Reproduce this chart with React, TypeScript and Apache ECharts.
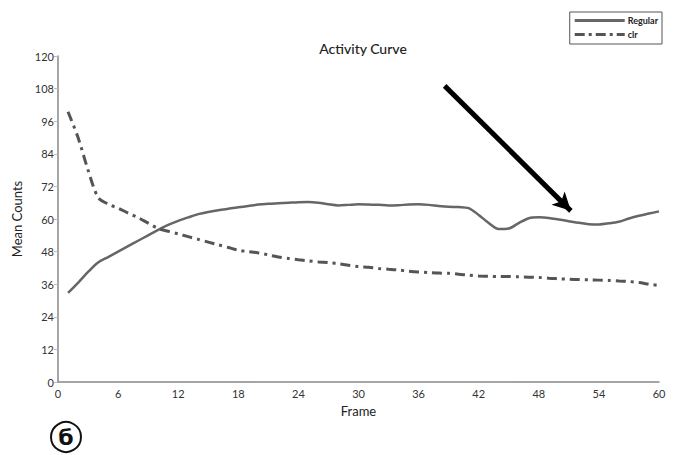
import React, { useEffect, useRef } from "react";
import * as echarts from "echarts";

const frames: number[] = Array.from({ length: 60 }, (_, i) => i + 1);

const regularValues: number[] = [
  32.8, 36.5, 40.5, 44, 46, 48, 50, 52, 54, 56,
  57.8, 59.3, 60.6, 61.8, 62.6, 63.2, 63.8, 64.3, 64.8, 65.3,
  65.6, 65.8, 66, 66.2, 66.3, 66, 65.4, 65, 65.2, 65.4,
  65.3, 65.2, 65, 65.1, 65.3, 65.4, 65.2, 64.8, 64.5, 64.4,
  64, 61.5, 58.5, 56.3, 56.5, 58.5, 60.3, 60.6, 60.4, 59.8,
  59.2, 58.6, 58.1, 58, 58.4, 59, 60.2, 61.2, 62, 62.8,
];

const clrValues: number[] = [
  99.5, 90, 78, 68, 65.5, 64, 62.2, 60.5, 58.5, 56.5,
  55.5, 54.5, 53.5, 52.5, 51.5, 50.5, 49.5, 48.5, 48, 47.5,
  46.8, 46, 45.5, 45, 44.6, 44.2, 44, 43.5, 43, 42.5,
  42.2, 41.8, 41.5, 41.2, 40.8, 40.5, 40.3, 40.1, 40, 39.7,
  39.3, 39, 38.9, 38.8, 38.8, 38.7, 38.6, 38.5, 38.2, 38,
  37.8, 37.7, 37.6, 37.5, 37.4, 37.2, 37, 36.6, 36, 35.5,
];

const arrowStart: [number, number] = [38.6, 109];
const arrowEnd: [number, number] = [51.2, 63];

const seriesNames = ["Regular", "clr"];
const titleText = "Activity Curve";
const xName = "Frame";
const yName = "Mean Counts";

const solidIcon = "path://M0,0H50V3H0Z";
const dashDotIcon =
  "path://M0,0H10V3H0Z M14,0H17V3H14Z M21,0H31V3H21Z M35,0H38V3H35Z M42,0H50V3H42Z";

export default function App() {
  const ref = useRef<HTMLDivElement>(null);
  useEffect(() => {
    if (!ref.current) return;
    const chart = echarts.init(ref.current, undefined, { renderer: "svg" });
    const font = "Lato, 'DejaVu Sans', sans-serif";
    chart.setOption({
      animation: false,
      backgroundColor: "#ffffff",
      textStyle: { fontFamily: font },
      title: {
        text: titleText,
        left: 358,
        top: 36,
        textAlign: "center",
        textStyle: { fontSize: 14, fontWeight: 500, color: "#222", fontFamily: font },
      },
      legend: {
        right: 19,
        top: 12,
        orient: "vertical",
        borderColor: "#555",
        borderWidth: 1,
        padding: [4, 4, 5, 5],
        itemGap: 5,
        itemWidth: 50,
        itemHeight: 3,
        textStyle: { fontSize: 9, color: "#222", fontWeight: "bold", padding: [0, 0, 0, -2] },
        data: [
          { name: seriesNames[0], icon: solidIcon },
          { name: seriesNames[1], icon: dashDotIcon },
        ],
      },
      grid: { left: 58, right: 22, top: 56, bottom: 73 },
      xAxis: {
        type: "value",
        min: 0,
        max: 60,
        interval: 6,
        name: xName,
        nameLocation: "middle",
        nameGap: 22,
        nameTextStyle: { fontSize: 13, color: "#222", fontFamily: font },
        axisLine: { show: true, lineStyle: { color: "#888", width: 1.5 } },
        axisTick: { show: false },
        axisLabel: { fontSize: 11, color: "#333", margin: 6 },
        splitLine: { show: false },
      },
      yAxis: {
        type: "value",
        min: 0,
        max: 120,
        interval: 12,
        name: yName,
        nameLocation: "middle",
        nameGap: 32,
        nameTextStyle: { fontSize: 13, color: "#222", fontFamily: font },
        axisLine: { show: true, lineStyle: { color: "#888", width: 1.5 } },
        axisTick: { show: true, length: 4, lineStyle: { color: "#bbb" } },
        axisLabel: { fontSize: 11, color: "#333", margin: 4 },
        splitLine: { show: false },
      },
      series: [
        {
          name: seriesNames[0],
          type: "line",
          data: frames.map((f, i) => [f, regularValues[i]]),
          showSymbol: false,
          symbol: "none",
          smooth: 0.3,
          lineStyle: { color: "#666", width: 2.5 },
          itemStyle: { color: "#666" },
          markLine: {
            silent: true,
            symbol: ["none", "arrow"],
            symbolSize: [14, 18],
            label: { show: false },
            lineStyle: { color: "#000", width: 5, type: "solid" },
            data: [[{ coord: arrowStart }, { coord: arrowEnd }]],
          },
        },
        {
          name: seriesNames[1],
          type: "line",
          data: frames.map((f, i) => [f, clrValues[i]]),
          showSymbol: false,
          symbol: "none",
          smooth: 0.3,
          lineStyle: { color: "#555", width: 3, type: [10, 5, 3, 5] },
          itemStyle: { color: "#555" },
        },
      ],
      graphic: [
        {
          type: "circle",
          shape: { cx: 66, cy: 437, r: 15 },
          style: { fill: "#fff", stroke: "#111", lineWidth: 2 },
        },
        {
          type: "text",
          x: 66,
          y: 437,
          style: {
            text: "б",
            fontSize: 22,
            fontWeight: "bold",
            fill: "#111",
            align: "center",
            verticalAlign: "middle",
            fontFamily: "'DejaVu Sans', sans-serif",
          },
        },
      ],
    });
    return () => chart.dispose();
  }, []);
  return <div ref={ref} style={{ width: 681, height: 455, position: "absolute", left: 0, top: 0 }} />;
}
